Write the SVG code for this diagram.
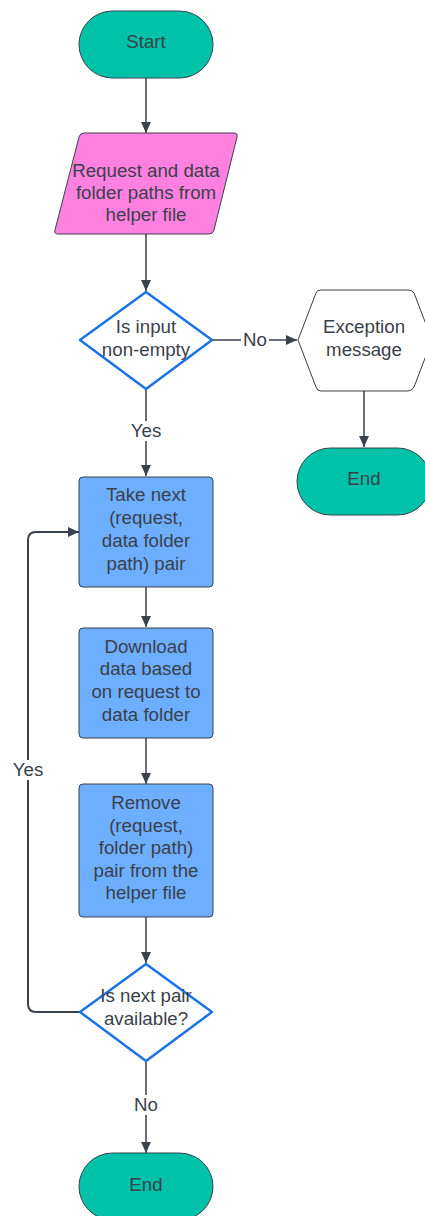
<svg xmlns="http://www.w3.org/2000/svg" width="425" height="1216" viewBox="0 0 425 1216">
<defs>
<style>
.t{font-family:"Liberation Sans",Arial,sans-serif;font-size:18.7px;fill:#3a414a;text-anchor:middle}
.term{fill:#00c2a8;stroke:#3a414a;stroke-width:1}
.proc{fill:#6daffe;stroke:#3a414a;stroke-width:1}
.dec{fill:#ffffff;stroke:#1a73e8;stroke-width:2.5;stroke-linejoin:round}
.c{fill:none;stroke:#3a414a;stroke-width:1.5}
.lbl{fill:#ffffff}
</style>
<marker id="a" viewBox="0 0 10 10" refX="10" refY="5" markerWidth="11" markerHeight="11" markerUnits="userSpaceOnUse" orient="auto">
<path d="M0,0.5 L10,5 L0,9.5 z" fill="#3a414a"/>
</marker>
</defs>

<g id="connectors">
<path class="c" d="M146,78 V133" marker-end="url(#a)"/>
<path class="c" d="M146,234 V291" marker-end="url(#a)"/>
<path class="c" d="M212,340 H297" marker-end="url(#a)"/>
<path class="c" d="M146,389 V476" marker-end="url(#a)"/>
<path class="c" d="M364,391 V447" marker-end="url(#a)"/>
<path class="c" d="M146,587 V627" marker-end="url(#a)"/>
<path class="c" d="M146,738 V784" marker-end="url(#a)"/>
<path class="c" d="M146,917 V963" marker-end="url(#a)"/>
<path class="c" d="M146,1062 V1153" marker-end="url(#a)"/>
<path class="c" style="stroke-width:2" d="M80,1012 H36 Q28,1012 28,1004 V540 Q28,532 36,532 H79" marker-end="url(#a)"/>
<rect class="lbl" x="241" y="330" width="28" height="20"/>
<text class="t" x="255" y="346">No</text>
<rect class="lbl" x="128" y="421" width="36" height="20"/>
<text class="t" x="146" y="437">Yes</text>
<rect class="lbl" x="10" y="760" width="36" height="20"/>
<text class="t" x="28" y="776">Yes</text>
<rect class="lbl" x="130" y="1095" width="32" height="20"/>
<text class="t" x="146" y="1111">No</text>
</g>

<g id="start">
<rect class="term" x="79" y="11" width="134" height="67" rx="33.5"/>
<text class="t" x="146" y="48">Start</text>
</g>

<g id="input">
<path d="M84,133 H234 Q238,133 237,137 L214,230 Q213,234 209,234 H58 Q54,234 55,230 L79,137 Q80,133 84,133 Z" fill="#ff80df" stroke="#3a414a" stroke-width="1"/>
<text class="t" x="146" y="177">Request and data</text>
<text class="t" x="146" y="199">folder paths from</text>
<text class="t" x="146" y="221">helper file</text>
</g>

<g id="check-input">
<path class="dec" d="M146,292 L212,340 L146,389 L80,340 Z"/>
<text class="t" x="146" y="333">Is input</text>
<text class="t" x="146" y="356">non-empty</text>
</g>

<g id="exception">
<path d="M298,340 L316,293 Q317,290 321,290 H408 Q412,290 414,293 L432,340 L414,387 Q412,391 408,391 H321 Q317,391 316,387 Z" fill="#ffffff" stroke="#3a414a" stroke-width="1"/>
<text class="t" x="364" y="333">Exception</text>
<text class="t" x="364" y="356">message</text>
</g>

<g id="end-exception">
<rect class="term" x="297" y="448" width="134" height="67" rx="33.5"/>
<text class="t" x="364" y="485">End</text>
</g>

<g id="take-next">
<rect class="proc" x="79" y="477" width="134" height="110" rx="4"/>
<text class="t" x="146" y="501">Take next</text>
<text class="t" x="146" y="524">(request,</text>
<text class="t" x="146" y="547">data folder</text>
<text class="t" x="146" y="570">path) pair</text>
</g>

<g id="download">
<rect class="proc" x="79" y="628" width="134" height="110" rx="4"/>
<text class="t" x="146" y="653">Download</text>
<text class="t" x="146" y="675">data based</text>
<text class="t" x="146" y="698">on request to</text>
<text class="t" x="146" y="721">data folder</text>
</g>

<g id="remove">
<rect class="proc" x="79" y="784" width="134" height="133" rx="4"/>
<text class="t" x="146" y="809">Remove</text>
<text class="t" x="146" y="832">(request,</text>
<text class="t" x="146" y="854">folder path)</text>
<text class="t" x="146" y="877">pair from the</text>
<text class="t" x="146" y="899">helper file</text>
</g>

<g id="check-next">
<path class="dec" d="M146,964 L212,1012 L146,1061 L80,1012 Z"/>
<text class="t" x="146" y="1002">Is next pair</text>
<text class="t" x="146" y="1025">available?</text>
</g>

<g id="end">
<rect class="term" x="79" y="1153" width="134" height="67" rx="33.5"/>
<text class="t" x="146" y="1191">End</text>
</g>
</svg>
